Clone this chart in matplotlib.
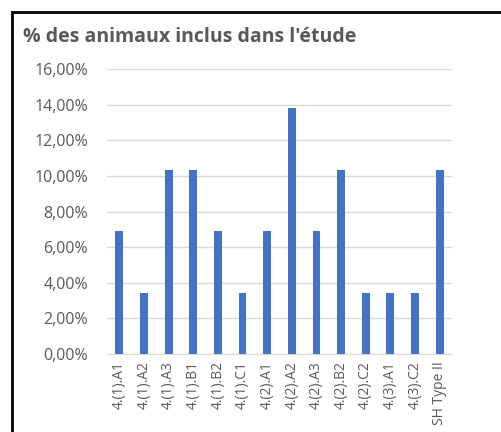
import matplotlib.pyplot as plt
import numpy as np
from matplotlib.patches import Rectangle
from matplotlib.ticker import FuncFormatter

categories = ["4.(1).A1", "4.(1).A2", "4.(1).A3", "4.(1).B1", "4.(1).B2",
              "4.(1).C1", "4.(2).A1", "4.(2).A2", "4.(2).A3", "4.(2).B2",
              "4.(2).C2", "4.(3).A1", "4.(3).C2", "SH Type II"]
# share of the 29 animals
share = [0.0690, 0.0345, 0.1034, 0.1034, 0.0690,
         0.0345, 0.0690, 0.1379, 0.0690, 0.1034,
         0.0345, 0.0345, 0.0345, 0.1034]
yticks = [0, 0.02, 0.04, 0.06, 0.08, 0.10, 0.12, 0.14, 0.16]

TXT = "#595959"
BLUE = "#4472C4"

plt.rcParams["font.family"] = ["Open Sans", "DejaVu Sans"]

fig = plt.figure(figsize=(5.01, 4.32), dpi=100)
fig.patch.set_facecolor("white")

# black frame of the pasted chart, running off the right and bottom edges
fig.patches.append(Rectangle((12 / 501, -0.1), 1.2, 1 - 12 / 432 + 0.1,
                             transform=fig.transFigure, fill=False,
                             edgecolor="black", linewidth=2))

ax = fig.add_axes([107 / 501, 1 - 354 / 432, 345 / 501, 285 / 432])
x = np.arange(len(categories))
ax.bar(x, share, width=0.32, color=BLUE, zorder=3)

ax.set_xlim(-0.5, len(categories) - 0.5)
ax.set_ylim(0, 0.16)
ax.set_yticks(yticks)
ax.yaxis.set_major_formatter(FuncFormatter(lambda v, p: f"{v * 100:.2f}%".replace(".", ",")))
ax.set_xticks(x)
ax.set_xticklabels(categories, rotation=90)
ax.tick_params(axis="both", length=0, colors=TXT)
ax.tick_params(axis="y", pad=13.5, labelsize=11.5)
ax.tick_params(axis="x", pad=5, labelsize=10)

ax.grid(axis="y", color="#D9D9D9", linewidth=1, zorder=0)
for s in ["top", "right", "left"]:
    ax.spines[s].set_visible(False)
ax.spines["bottom"].set_color("#D9D9D9")

fig.text(23 / 501, 1 - 37 / 432, "% des animaux inclus dans l'étude",
         color=TXT, fontsize=14, fontweight="bold", va="center", ha="left")

fig.savefig("out.png", dpi=100)
